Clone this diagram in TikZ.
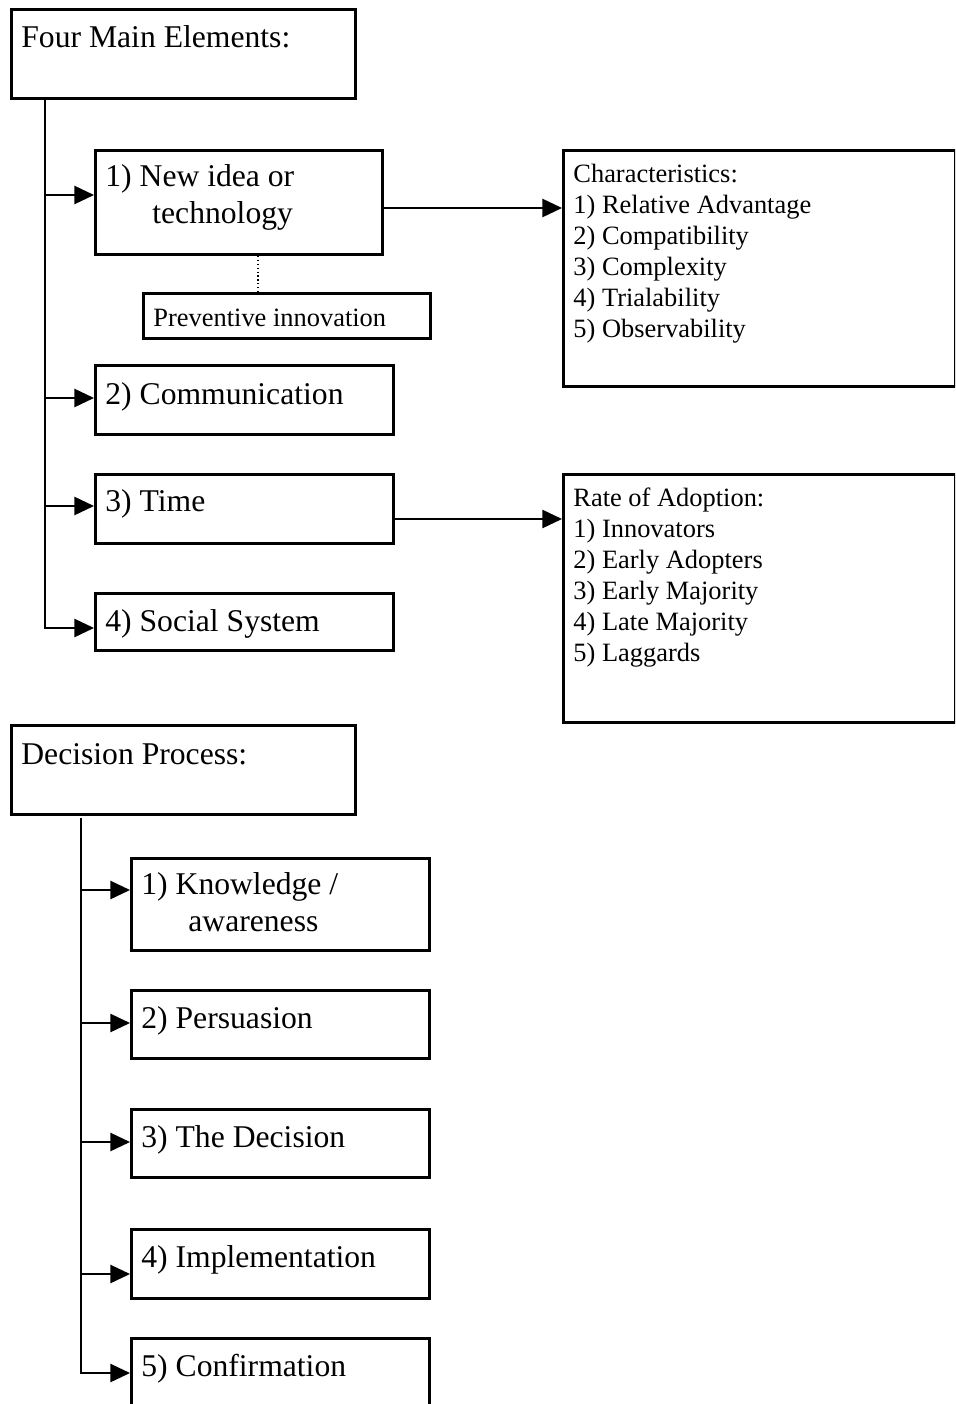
\documentclass[tikz,border=0pt]{standalone}
\usepackage{fontspec}
\setmainfont{Liberation Serif}
\usetikzlibrary{arrows.meta}
\newdimen\px
\px=0.025cm
% box text: width, height, first baseline
\newcommand{\cell}[4]{\parbox[t][#2\px][t]{#1\px}{\rule{0pt}{#3\px}#4}}

\begin{document}
\begin{tikzpicture}[x=0.025cm,y=-0.025cm,
  box/.style={draw,line width=2pt,anchor=north west,inner xsep=7.1pt,inner ysep=0pt},
  big/.style={box,font=\fontsize{22.5}{26.6}\selectfont},
  small/.style={box,font=\fontsize{18.8}{22}\selectfont},
  arr/.style={line width=1.3pt,-{Triangle[length=14pt,width=13pt]}}]
  \useasboundingbox (0,0) rectangle (955,1404);
  \clip (0,0) rectangle (955,1404);

  % four main elements
  \node[big] (fme) at (10,8) {\cell{324}{89}{38}{Four Main Elements:}};
  \node[big] (new) at (94,149) {\cell{267}{104}{36}{1) New idea or\\\hspace*{47\px}technology}};
  \node[small] (prev) at (142,292) {\cell{267}{45}{33}{Preventive innovation}};
  \node[big] (comm) at (94,364) {\cell{278}{69}{39}{2) Communication}};
  \node[big] (time) at (94,473) {\cell{278}{69}{37}{3) Time}};
  \node[big] (soc) at (94,592) {\cell{278}{57}{38}{4) Social System}};
  \node[small] (chars) at (562,149) {\cell{372}{236}{32}{Characteristics:\\1) Relative Advantage\\2) Compatibility\\3) Complexity\\4) Trialability\\5) Observability}};
  \node[small] (rate) at (562,473) {\cell{372}{248}{32}{Rate of Adoption:\\1) Innovators\\2) Early Adopters\\3) Early Majority\\4) Late Majority\\5) Laggards}};

  \coordinate (ft) at (45,97);
  \foreach \n/\yy in {new/195,comm/398,time/506}
    \draw[arr] (ft |- 0,\yy) -- (\n.west |- 0,\yy);
  \draw[arr] (ft) |- (soc.west |- 0,628);
  \draw[arr] (new.east |- 0,208) -- (chars.west |- 0,208);
  \draw[arr] (time.east |- 0,519) -- (rate.west |- 0,519);
  \draw[dotted,line width=0.8pt] (new.south -| 258,0) -- (prev.north -| 258,0);

  % decision process
  \node[big] (dec) at (10,724) {\cell{324}{89}{39}{Decision Process:}};
  \node[big] (know) at (130,857) {\cell{278}{92}{36}{1) Knowledge /\\\hspace*{47\px}awareness}};
  \node[big] (pers) at (130,989) {\cell{278}{68}{38}{2) Persuasion}};
  \node[big] (thedec) at (130,1108) {\cell{278}{68}{38}{3) The Decision}};
  \node[big] (impl) at (130,1228) {\cell{278}{69}{38}{4) Implementation}};
  \node[big] (conf) at (130,1337) {\cell{278}{100}{38}{5) Confirmation}};

  \coordinate (dt) at (81,818);
  \foreach \n/\yy in {know/890,pers/1023,thedec/1142,impl/1274}
    \draw[arr] (dt |- 0,\yy) -- (\n.west |- 0,\yy);
  \draw[arr] (dt) |- (conf.west |- 0,1373);
\end{tikzpicture}
\end{document}
